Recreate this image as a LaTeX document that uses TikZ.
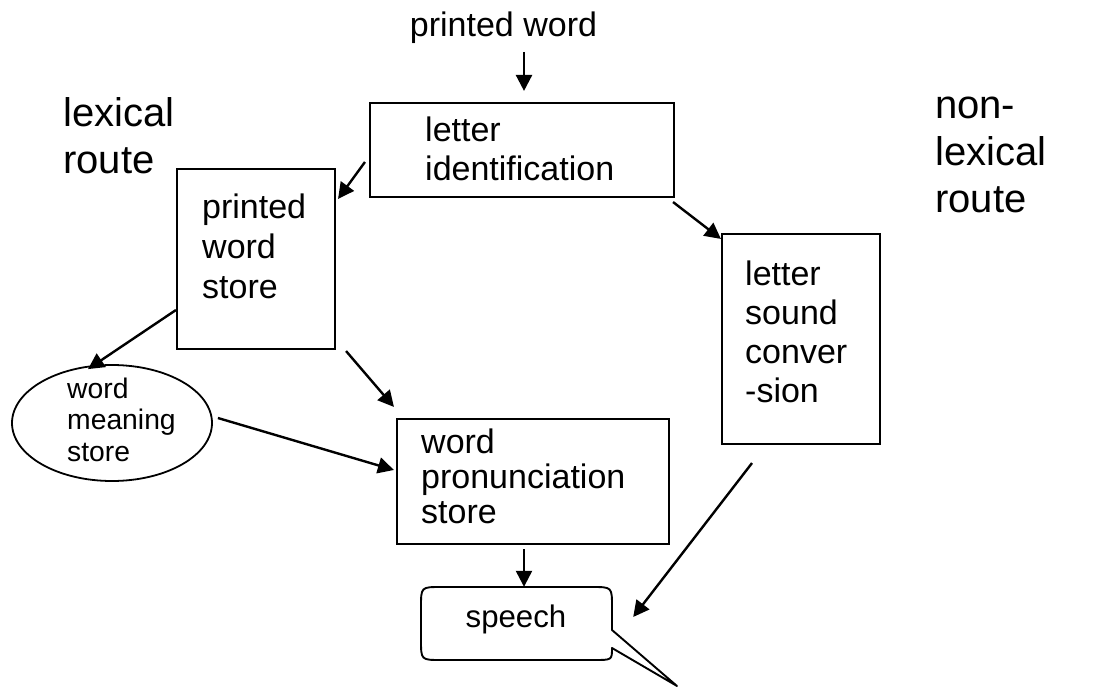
\documentclass[tikz,border=0pt]{standalone}
\usepackage{fontspec}
\setmainfont{Liberation Sans}
\usetikzlibrary{arrows.meta,shapes.geometric}
\begin{document}
\begin{tikzpicture}[x=1pt,y=-1pt,
  box/.style={draw, line width=2.1pt, minimum width=#1, inner sep=0pt},
  txt/.style={inner sep=0pt, anchor=base west, align=left, font=\fontsize{34}{39}\selectfont},
  big/.style={inner sep=0pt, anchor=base west, align=left, font=\fontsize{40}{47}\selectfont},
  arr/.style={line width=2.4pt, -{Triangle[length=16pt,width=16pt]}}]
\useasboundingbox (0,0) rectangle (1113,687);
% labels
\node[inner sep=0pt, anchor=base, font=\fontsize{34}{39}\selectfont] (pw) at (503.5,37) {printed word};
\node[big] (lex) at (63,174) {lexical\\route};
\node[big] (nonlex) at (935,212) {non-\\lexical\\route};
% boxes
\node[box=304pt, minimum height=94pt] (li) at (522,150) {};
\node[txt] (lit) at (425,180.5) {letter\\identification};
\node[box=158pt, minimum height=180pt] (pws) at (256,259) {};
\node[txt, font=\fontsize{34}{40}\selectfont] (pwst) at (202,298) {printed\\word\\store};
\node[box=158pt, minimum height=210pt] (lsc) at (801,339) {};
\node[txt, font=\fontsize{34}{39}\selectfont] (lsct) at (745,402) {letter\\sound\\conver\\-sion};
\node[box=272pt, minimum height=125pt] (pron) at (533,481.5) {};
\node[txt, font=\fontsize{34}{35}\selectfont] (pront) at (421,523) {word\\pronunciation\\store};
\node[draw, ellipse, line width=1.8pt, minimum width=200pt, minimum height=116pt, inner sep=0pt] (wm) at (112,423) {};
\node[txt, font=\fontsize{28.3}{31.5}\selectfont] (wmt) at (67,461) {word\\meaning\\store};
% speech bubble
\node[minimum width=191pt, minimum height=73pt, inner sep=0pt] (sp) at (516.5,623.5) {};
\draw[line width=1.9pt, line join=round] (612,630) -- (612,607) .. controls (612,587) .. (592,587) -- (441,587)
  .. controls (421,587) .. (421,607) -- (421,640) .. controls (421,660) .. (441,660) -- (594,660)
  .. controls (612,660) .. (612,648) -- (677,686) -- cycle;
\node[inner sep=0pt, anchor=base, font=\fontsize{31.2}{36}\selectfont] (spt) at (516,627) {speech};
% arrows
\draw[arr] ([shift={(20.5,15)}]pw.base) -- ([shift={(2,-11)}]li.north);
\draw[arr] ([shift={(-4,12)}]li.west) -- ([shift={(2,31)}]pws.north east);
\draw[arr] ([shift={(-2,4)}]li.south east) -- ([shift={(0,6)}]lsc.north west);
\draw[arr] ([shift={(0,51)}]pws.west) -- ([shift={(-24,5)}]wm.north);
\draw[arr] ([shift={(10,1)}]pws.south east) -- ([shift={(-2,-11)}]pron.north west);
\draw[arr] ([shift={(5,-5)}]wm.east) -- ([shift={(-2,-11.5)}]pron.west);
\draw[arr] ([shift={(-9,4)}]pron.south) -- ([shift={(7.5,0)}]sp.north);
\draw[arr] ([shift={(-49,18)}]lsc.south) -- ([shift={(21,-6.5)}]sp.east);
\end{tikzpicture}
\end{document}
